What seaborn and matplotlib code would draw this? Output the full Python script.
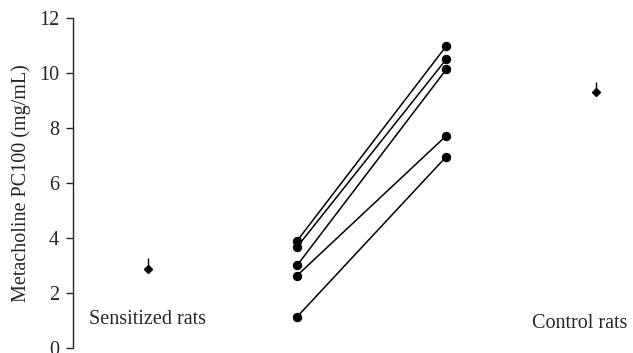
import numpy as np
import pandas as pd
import matplotlib
matplotlib.use("Agg")
import matplotlib.pyplot as plt
import seaborn as sns

# ── data ────────────────────────────────────────────────────
rat_ids      = [1, 2, 3, 4, 5]
pc100_before = [3.89, 3.67, 3.00, 2.63, 1.13]
pc100_after  = [10.98, 10.50, 10.13, 7.72, 6.96]

group_names = ["Sensitized rats", "Control rats"]
group_mean  = [2.86, 9.30]
group_err   = [0.40, 0.36]

# x positions of the four columns
x_group  = [1, 4]
x_before = 2
x_after  = 3

# ── style ───────────────────────────────────────────────────
sns.set_style("ticks")
plt.rcParams["font.family"] = ["Liberation Serif", "DejaVu Serif"]
plt.rcParams["font.size"] = 14.5

paired = pd.DataFrame({
    "rat":   rat_ids * 2,
    "x":     [x_before] * len(rat_ids) + [x_after] * len(rat_ids),
    "pc100": pc100_before + pc100_after,
})

fig = plt.figure(figsize=(6.33, 3.53), dpi=100)
ax = fig.add_axes([0.1153, 0.0142, 0.8847, 0.935])

# paired before/after lines
sns.lineplot(data=paired, x="x", y="pc100", units="rat", estimator=None,
             color="black", lw=1.1, marker="o", markersize=6,
             markeredgecolor="black", ax=ax, legend=False)

# group means with upward-only error bars
ax.errorbar(x_group, group_mean, yerr=[[0, 0], group_err], fmt="D",
            color="black", markersize=4, elinewidth=1.0, capsize=0)

# group labels
ax.text(x_group[0], 1.05, group_names[0], ha="center", va="center")
ax.text(x_group[1] - 0.11, 0.9, group_names[1], ha="center", va="center")

ax.set_xlim(0.5, 4.25)
ax.set_ylim(0, 12)
ax.set_yticks(range(0, 13, 2))
ax.set_xticks([])
ax.set_xlabel("")
ax.set_ylabel("Metacholine PC100 (mg/mL)", labelpad=6)
for side in ["top", "right", "bottom"]:
    ax.spines[side].set_visible(False)
ax.spines["left"].set_linewidth(1.0)
ax.tick_params(axis="y", direction="out", length=5, width=1.0, pad=5)

plt.savefig("out.png", dpi=100)
